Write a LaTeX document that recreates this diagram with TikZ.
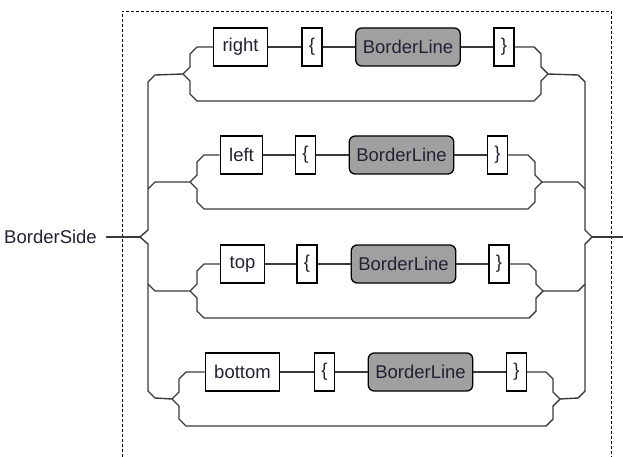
\documentclass[tikz,border=0pt]{standalone}
\usepackage{fontspec}
\usepackage{tikz}
\usepackage{xcolor}
\usetikzlibrary{calc}
\setmainfont{Liberation Sans}
\definecolor{Rail_Gray}{HTML}{3A3A3A}
\definecolor{Box_Ink}{HTML}{222233}
\definecolor{Ref_Fill}{HTML}{A0A0A0}

\begin{document}
\begin{tikzpicture}[x=1pt, y=-1pt,
    rail/.style={line width=1.4pt, Rail_Gray},
    kwbox/.style={draw=black, line width=1.3pt, fill=white, text=Box_Ink,
        minimum height=38pt, inner xsep=9pt, font=\fontsize{18.5}{22}\selectfont},
    brbox/.style={kwbox, minimum width=20pt, inner xsep=4pt},
    refbox/.style={kwbox, fill=Ref_Fill, rounded corners=6pt, inner xsep=7pt}]
    \useasboundingbox (0,0) rectangle (623,457);

    % Dashed frame (open at the bottom)
    \draw[black, line width=0.9pt, dash pattern=on 3pt off 2pt] (122,457) -- (122,11) -- (611,11) -- (611,457);

    % Rule name and entry/exit
    \node[anchor=east, inner xsep=9pt, inner ysep=0pt, text=Box_Ink,
        font=\fontsize{18.5}{22}\selectfont] (start) at (106,237) {BorderSide};
    \coordinate (ml) at (140,237);
    \coordinate (mr) at (592,237);
    \coordinate (stop) at (623,237);
    \draw[rail] (start) -- (ml);
    \draw[rail] (mr) -- (stop);

    % One row per alternative
    \foreach \i/\word/\yy/\tl/\tr/\ck/\cl/\cb/\cr in {
        1/right/47/183/548/240.5/312/408/504,
        2/left/155/190/542/241.5/305.5/401.5/497.5,
        3/top/264/190/543/242.5/307/403.5/499,
        4/bottom/372/172/560/242.5/324.5/420.5/516.5}{
        \node[kwbox] (kw\i) at (\ck,\yy) {\word};
        \node[brbox] (lb\i) at (\cl,\yy) {\{};
        \node[refbox] (bl\i) at (\cb,\yy) {BorderLine};
        \node[brbox] (rb\i) at (\cr,\yy) {\}};
        \coordinate (tl\i) at (\tl,\yy+27);
        \coordinate (tr\i) at (\tr,\yy+27);
        \draw[rail] (kw\i) -- (lb\i) -- (bl\i) -- (rb\i);
        % small braces
        \draw[rail] (tl\i) -- ++(7,-7) -- ++(0,-13) -- ++(7,-7) -- (kw\i);
        \draw[rail] (tr\i) -- ++(-7,-7) -- ++(0,-13) -- ++(-7,-7) -- (rb\i);
        % bypass
        \draw[rail] (tl\i) -- ++(7,7) -- ++(0,13) -- ++(7,7)
            -- ($(tr\i)+(-14,27)$) -- ++(7,-7) -- ++(0,-13) -- (tr\i);
    }

    % Left main brace
    \draw[rail] (tl1) -- (155,75) -- (148,82) -- (148,230) -- (ml)
        -- (148,244) -- (148,391) -- (155,398) -- (tl4);
    \draw[rail] (tl2) -- (155,182) -- (148,189);
    \draw[rail] (tl3) -- (155,291) -- (148,284);

    % Right main brace
    \draw[rail] (tr1) -- (578,75) -- (585,82) -- (585,230) -- (mr)
        -- (585,244) -- (585,391) -- (578,398) -- (tr4);
    \draw[rail] (tr2) -- (578,182) -- (585,189);
    \draw[rail] (tr3) -- (578,291) -- (585,284);

\end{tikzpicture}
\end{document}
